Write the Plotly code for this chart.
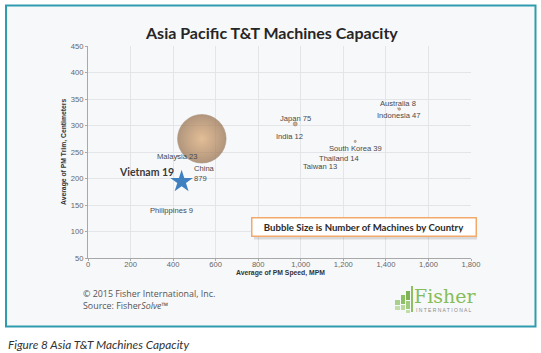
import plotly.graph_objects as go

# ---------------- data ----------------
countries = ["China", "Japan", "Indonesia", "Australia", "South Korea", "India",
             "Thailand", "Taiwan", "Malaysia", "Philippines"]
pm_speed = [535, 974, 1463, 1455, 1256, 945, 1179, 1091, 420, 394]   # MPM
pm_trim = [275, 303, 331, 333, 270, 280, 238, 222, 242, 140]          # cm
machines = [879, 75, 47, 8, 39, 12, 14, 13, 23, 9]

hl_country = "Vietnam"
hl_speed = 440
hl_trim = 194
hl_machines = 19

x_ticks = [0, 200, 400, 600, 800, 1000, 1200, 1400, 1600, 1800]
y_ticks = [50, 100, 150, 200, 250, 300, 350, 400, 450]

# ---------------- style / layout helpers ----------------
W_FIG, H_FIG = 541, 353
L, R, T, B = 88, 471, 46, 258
PW, PH = R - L, B - T


def px(x):
    return (x - L) / PW


def py(y):
    return (B - y) / PH


# label offsets (pixels) relative to each point: (xshift, yshift)
label_shift = {
    "China": (-10, -35), "Japan": (0, 5), "Indonesia": (0, -6), "Australia": (0, 5),
    "South Korea": (0, -7), "India": (0, 0), "Thailand": (0, 0), "Taiwan": (0, 0),
    "Malaysia": (0, 0), "Philippines": (0, 0),
}

fig = go.Figure()

fig.add_trace(go.Scatter(
    x=pm_speed, y=pm_trim, mode="markers",
    marker=dict(size=machines, sizemode="diameter", sizeref=879 / 48.5, sizemin=0,
                color="#946d49",
                gradient=dict(type="radial", color="#dba56c"),
                line=dict(width=0.6, color="#8a6647")),
    hoverinfo="skip", showlegend=False,
))
fig.add_trace(go.Scatter(
    x=[hl_speed], y=[hl_trim], mode="markers",
    marker=dict(symbol="star", size=17, color="#3f80c0", line=dict(width=0)),
    hoverinfo="skip", showlegend=False,
))

annotations = []
for c, xs, ys, m in zip(countries, pm_speed, pm_trim, machines):
    dx, dy = label_shift[c]
    if c == "China":
        annotations.append(dict(x=xs, y=ys, xref="x", yref="y", text=f"{c}<br>{m}",
                                showarrow=False, xanchor="left", yanchor="middle",
                                align="left", xshift=dx, yshift=dy,
                                font=dict(family="Liberation Sans", size=7.6, color="#4a4a4a")))
    else:
        annotations.append(dict(x=xs, y=ys, xref="x", yref="y", text=f"{c} {m}",
                                showarrow=False, xanchor="center", yanchor="middle",
                                xshift=dx, yshift=dy,
                                font=dict(family="Liberation Sans", size=7.6, color="#4a4a4a")))
annotations.append(dict(x=hl_speed, y=hl_trim, xref="x", yref="y",
                        text=f"<b>{hl_country} {hl_machines}</b>", showarrow=False,
                        xanchor="right", yanchor="middle", xshift=-6, yshift=10,
                        font=dict(family="Lato", size=10.5, color="#3a3a3a")))

# title
annotations.append(dict(x=px(271), y=py(33), xref="paper", yref="paper",
                        text="<b>Asia Pacific T&amp;T Machines Capacity</b>", showarrow=False,
                        xanchor="center", yanchor="middle",
                        font=dict(family="Lato", size=16, color="#262626")))
# axis titles
annotations.append(dict(x=px(280), y=py(272.5), xref="paper", yref="paper",
                        text="<b>Average of PM Speed, MPM</b>", showarrow=False,
                        xanchor="center", yanchor="middle",
                        font=dict(family="Liberation Sans", size=6.8, color="#333")))
annotations.append(dict(x=px(64), y=py(152), xref="paper", yref="paper",
                        text="<b>Average of PM Trim, Centimeters</b>", showarrow=False,
                        textangle=-90, xanchor="center", yanchor="middle",
                        font=dict(family="Liberation Sans", size=6.8, color="#333")))
# bubble note box
annotations.append(dict(x=px(363.5), y=py(227), xref="paper", yref="paper",
                        text="<b>Bubble Size is Number of Machines by Country</b>",
                        showarrow=False, xanchor="center", yanchor="middle",
                        bgcolor="#ffffff", bordercolor="#f2a96a", borderwidth=1.5, borderpad=3,
                        width=217,
                        font=dict(family="Lato", size=9.6, color="#2a2a2a")))
# footer
annotations.append(dict(x=px(81), y=py(293), xref="paper", yref="paper",
                        text="© 2015 Fisher International, Inc.", showarrow=False,
                        xanchor="left", yanchor="middle",
                        font=dict(family="Open Sans", size=8.9, color="#555")))
annotations.append(dict(x=px(81), y=py(305), xref="paper", yref="paper",
                        text="Source: Fisher<i>Solve</i>™", showarrow=False,
                        xanchor="left", yanchor="middle",
                        font=dict(family="Open Sans", size=8.9, color="#555")))
# logo text
annotations.append(dict(x=px(412), y=py(296), xref="paper", yref="paper",
                        text="Fisher", showarrow=False, xanchor="left", yanchor="middle",
                        font=dict(family="DejaVu Serif", size=19, color="#86bd57")))
annotations.append(dict(x=px(414), y=py(309.5), xref="paper", yref="paper",
                        text="I N T E R N A T I O N A L", showarrow=False,
                        xanchor="left", yanchor="middle",
                        font=dict(family="Liberation Sans", size=5, color="#8a8a8a")))
# caption
annotations.append(dict(x=px(6), y=py(344), xref="paper", yref="paper",
                        text="<i>Figure 8 Asia T&amp;T Machines Capacity</i>", showarrow=False,
                        xanchor="left", yanchor="middle",
                        font=dict(family="Lato", size=11.8, color="#333")))

shapes = [
    dict(type="rect", xref="paper", yref="paper", x0=px(6), x1=px(535.5), y0=py(5.5), y1=py(326.5),
         line=dict(color="#2f9bae", width=2), fillcolor="#f7f8fa", layer="below"),
    # shadow of the note box
    dict(type="rect", xref="paper", yref="paper", x0=px(254), x1=px(477), y0=py(239.5), y1=py(219),
         line=dict(width=0), fillcolor="rgba(0,0,0,0.12)", layer="above"),
]
# logo icon squares
icon = [
    (395, 300, 400, 305, "#a9d08a"), (401, 295, 405, 304, "#8cc063"),
    (395, 306, 400, 310, "#c2dea8"),
    (401, 305, 405, 310, "#b9d99c"), (406, 291, 410, 300, "#7fb356"),
    (406, 301, 410, 309, "#a0cb7c"), (406, 310, 410, 313, "#c2dea8"),
    (411, 286, 413, 312, "#8cc063"),
]
for x0, y0, x1, y1, col in icon:
    shapes.append(dict(type="rect", xref="paper", yref="paper", x0=px(x0), x1=px(x1),
                       y0=py(y0), y1=py(y1), line=dict(width=0), fillcolor=col, layer="above"))

fig.update_layout(
    width=W_FIG, height=H_FIG,
    margin=dict(l=L, r=W_FIG - R, t=T, b=H_FIG - B),
    paper_bgcolor="#ffffff", plot_bgcolor="#f4f5f7",
    annotations=annotations, shapes=shapes,
    xaxis=dict(range=[0, 1800], tickvals=x_ticks, tickformat=",d", showgrid=True,
               gridcolor="#e3e5e9", gridwidth=1, zeroline=False, showline=True,
               linecolor="#a8a8a8", linewidth=1, ticks="outside", ticklen=2,
               tickcolor="#a8a8a8", ticklabelstandoff=-3,
               tickfont=dict(family="Liberation Sans", size=7.6, color="#666")),
    yaxis=dict(range=[50, 450], tickvals=y_ticks, showgrid=True,
               gridcolor="#e3e5e9", gridwidth=1, zeroline=False, showline=True,
               linecolor="#a8a8a8", linewidth=1, ticks="outside", ticklen=2,
               tickcolor="#a8a8a8",
               tickfont=dict(family="Liberation Sans", size=7.6, color="#666")),
)

fig.write_html("out.html")
